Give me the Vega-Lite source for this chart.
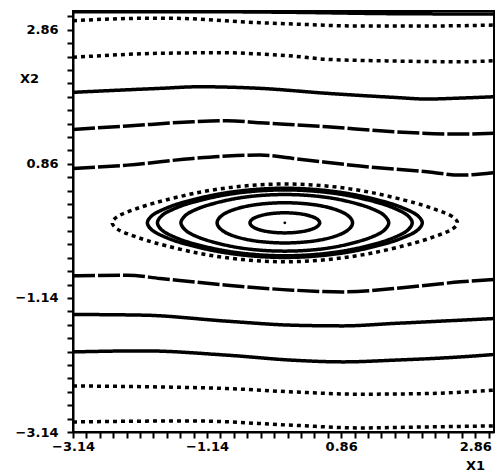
{
  "$schema": "https://vega.github.io/schema/vega-lite/v6.json",
  "width": 421,
  "height": 421,
  "autosize": "none",
  "padding": {"left": 73, "top": 11, "right": 2, "bottom": 41},
  "background": "white",
  "config": {
    "view": {"stroke": "black", "strokeWidth": 2},
    "axis": {
      "labelFont": "DejaVu Sans", "labelFontWeight": "bold", "labelFontSize": 13, "labelColor": "black",
      "domainColor": "black", "domainWidth": 2, "tickColor": "black", "tickWidth": 2, "tickSize": 6,
      "grid": false, "titleFont": "DejaVu Sans", "titleFontWeight": "bold", "titleFontSize": 13, "titleColor": "black"
    }
  },
  "datasets": {
    "lines": [
      {"c":"L0","s":"solid","x":-3.14,"y":3.13},{"c":"L0","s":"solid","x":-1.35,"y":3.13},{"c":"L0","s":"solid","x":0.14,"y":3.12},{"c":"L0","s":"solid","x":1.64,"y":3.1},{"c":"L0","s":"solid","x":3.14,"y":3.095},
      {"c":"L1","s":"dot","x":-3.14,"y":2.995},{"c":"L1","s":"dot","x":-2.09,"y":3.031},{"c":"L1","s":"dot","x":-1.69,"y":3.031},{"c":"L1","s":"dot","x":-0.35,"y":2.965},{"c":"L1","s":"dot","x":0.14,"y":2.946},{"c":"L1","s":"dot","x":1.14,"y":2.916},{"c":"L1","s":"dot","x":2.14,"y":2.916},{"c":"L1","s":"dot","x":3.14,"y":2.931},
      {"c":"L2","s":"dot","x":-3.14,"y":2.449},{"c":"L2","s":"dot","x":-1.84,"y":2.509},{"c":"L2","s":"dot","x":-0.84,"y":2.518},{"c":"L2","s":"dot","x":-0.35,"y":2.498},{"c":"L2","s":"dot","x":0.14,"y":2.468},{"c":"L2","s":"dot","x":0.65,"y":2.419},{"c":"L2","s":"dot","x":1.64,"y":2.394},{"c":"L2","s":"dot","x":2.64,"y":2.383},{"c":"L2","s":"dot","x":3.14,"y":2.398},
      {"c":"L3","s":"solid","x":-3.14,"y":1.927},{"c":"L3","s":"solid","x":-1.84,"y":1.986},{"c":"L3","s":"solid","x":-1.25,"y":2.01},{"c":"L3","s":"solid","x":-0.35,"y":1.986},{"c":"L3","s":"solid","x":0.65,"y":1.912},{"c":"L3","s":"solid","x":1.64,"y":1.852},{"c":"L3","s":"solid","x":2.14,"y":1.827},{"c":"L3","s":"solid","x":2.64,"y":1.841},{"c":"L3","s":"solid","x":3.14,"y":1.861},
      {"c":"L4","s":"dash","x":-3.14,"y":1.374},{"c":"L4","s":"dash","x":-2.33,"y":1.424},{"c":"L4","s":"dash","x":-1.35,"y":1.488},{"c":"L4","s":"dash","x":-0.84,"y":1.503},{"c":"L4","s":"dash","x":-0.35,"y":1.473},{"c":"L4","s":"dash","x":0.65,"y":1.413},{"c":"L4","s":"dash","x":1.64,"y":1.339},{"c":"L4","s":"dash","x":2.64,"y":1.304},{"c":"L4","s":"dash","x":3.14,"y":1.315},
      {"c":"L5","s":"dash","x":-3.14,"y":0.792},{"c":"L5","s":"dash","x":-2.33,"y":0.841},{"c":"L5","s":"dash","x":-1.35,"y":0.941},{"c":"L5","s":"dash","x":-0.84,"y":0.976},{"c":"L5","s":"dash","x":-0.35,"y":0.991},{"c":"L5","s":"dash","x":0.14,"y":0.941},{"c":"L5","s":"dash","x":1.14,"y":0.827},{"c":"L5","s":"dash","x":2.14,"y":0.741},{"c":"L5","s":"dash","x":2.64,"y":0.692},{"c":"L5","s":"dash","x":3.14,"y":0.727},
      {"c":"L6","s":"dash","x":-3.14,"y":-0.811},{"c":"L6","s":"dash","x":-2.33,"y":-0.8},{"c":"L6","s":"dash","x":-1.84,"y":-0.85},{"c":"L6","s":"dash","x":-0.84,"y":-0.95},{"c":"L6","s":"dash","x":0.14,"y":-1.024},{"c":"L6","s":"dash","x":0.89,"y":-1.05},{"c":"L6","s":"dash","x":1.64,"y":-0.999},{"c":"L6","s":"dash","x":2.14,"y":-0.95},{"c":"L6","s":"dash","x":2.64,"y":-0.9},{"c":"L6","s":"dash","x":3.14,"y":-0.865},
      {"c":"L7","s":"solid","x":-3.14,"y":-1.387},{"c":"L7","s":"solid","x":-2.09,"y":-1.397},{"c":"L7","s":"solid","x":-0.84,"y":-1.487},{"c":"L7","s":"solid","x":0.14,"y":-1.547},{"c":"L7","s":"solid","x":0.89,"y":-1.557},{"c":"L7","s":"solid","x":1.64,"y":-1.521},{"c":"L7","s":"solid","x":2.64,"y":-1.472},{"c":"L7","s":"solid","x":3.14,"y":-1.447},
      {"c":"L8","s":"solid","x":-3.14,"y":-1.945},{"c":"L8","s":"solid","x":-2.09,"y":-1.93},{"c":"L8","s":"solid","x":-0.84,"y":-1.994},{"c":"L8","s":"solid","x":0.14,"y":-2.069},{"c":"L8","s":"solid","x":0.89,"y":-2.094},{"c":"L8","s":"solid","x":1.64,"y":-2.069},{"c":"L8","s":"solid","x":2.64,"y":-2.02},{"c":"L8","s":"solid","x":3.14,"y":-1.984},
      {"c":"L9","s":"dot","x":-3.14,"y":-2.453},{"c":"L9","s":"dot","x":-1.84,"y":-2.468},{"c":"L9","s":"dot","x":-0.84,"y":-2.492},{"c":"L9","s":"dot","x":0.14,"y":-2.542},{"c":"L9","s":"dot","x":1.14,"y":-2.576},{"c":"L9","s":"dot","x":2.14,"y":-2.566},{"c":"L9","s":"dot","x":3.14,"y":-2.517},
      {"c":"L10","s":"dot","x":-3.14,"y":-2.99},{"c":"L10","s":"dot","x":-1.35,"y":-2.975},{"c":"L10","s":"dot","x":0.14,"y":-3.039},{"c":"L10","s":"dot","x":1.14,"y":-3.079},{"c":"L10","s":"dot","x":2.14,"y":-3.064},{"c":"L10","s":"dot","x":3.14,"y":-3.049}
    ],
    "rings": [
      {"c":"R1","s":"solid","i":0,"x":0.54,"y":-0.02},{"c":"R1","s":"solid","i":1,"x":0.47,"y":0.055},{"c":"R1","s":"solid","i":2,"x":0.28,"y":0.11},{"c":"R1","s":"solid","i":3,"x":0.02,"y":0.13},{"c":"R1","s":"solid","i":4,"x":-0.24,"y":0.11},{"c":"R1","s":"solid","i":5,"x":-0.43,"y":0.055},{"c":"R1","s":"solid","i":6,"x":-0.5,"y":-0.02},{"c":"R1","s":"solid","i":7,"x":-0.43,"y":-0.095},{"c":"R1","s":"solid","i":8,"x":-0.24,"y":-0.15},{"c":"R1","s":"solid","i":9,"x":0.02,"y":-0.17},{"c":"R1","s":"solid","i":10,"x":0.28,"y":-0.15},{"c":"R1","s":"solid","i":11,"x":0.47,"y":-0.095},
      {"c":"R2","s":"solid","i":0,"x":1.03,"y":-0.02},{"c":"R2","s":"solid","i":1,"x":0.895,"y":0.13},{"c":"R2","s":"solid","i":2,"x":0.525,"y":0.24},{"c":"R2","s":"solid","i":3,"x":0.02,"y":0.28},{"c":"R2","s":"solid","i":4,"x":-0.485,"y":0.24},{"c":"R2","s":"solid","i":5,"x":-0.855,"y":0.13},{"c":"R2","s":"solid","i":6,"x":-0.99,"y":-0.02},{"c":"R2","s":"solid","i":7,"x":-0.855,"y":-0.17},{"c":"R2","s":"solid","i":8,"x":-0.485,"y":-0.28},{"c":"R2","s":"solid","i":9,"x":0.02,"y":-0.32},{"c":"R2","s":"solid","i":10,"x":0.525,"y":-0.28},{"c":"R2","s":"solid","i":11,"x":0.895,"y":-0.17},
      {"c":"R3","s":"solid","i":0,"x":1.57,"y":-0.02},{"c":"R3","s":"solid","i":1,"x":1.52,"y":0.072},{"c":"R3","s":"solid","i":2,"x":1.415,"y":0.147},{"c":"R3","s":"solid","i":3,"x":1.18,"y":0.24},{"c":"R3","s":"solid","i":4,"x":0.795,"y":0.335},{"c":"R3","s":"solid","i":5,"x":0.41,"y":0.386},{"c":"R3","s":"solid","i":6,"x":0.02,"y":0.402},{"c":"R3","s":"solid","i":7,"x":-0.37,"y":0.386},{"c":"R3","s":"solid","i":8,"x":-0.755,"y":0.335},{"c":"R3","s":"solid","i":9,"x":-1.14,"y":0.24},{"c":"R3","s":"solid","i":10,"x":-1.375,"y":0.147},{"c":"R3","s":"solid","i":11,"x":-1.48,"y":0.072},{"c":"R3","s":"solid","i":12,"x":-1.53,"y":-0.02},{"c":"R3","s":"solid","i":13,"x":-1.48,"y":-0.112},{"c":"R3","s":"solid","i":14,"x":-1.375,"y":-0.187},{"c":"R3","s":"solid","i":15,"x":-1.14,"y":-0.28},{"c":"R3","s":"solid","i":16,"x":-0.755,"y":-0.375},{"c":"R3","s":"solid","i":17,"x":-0.37,"y":-0.426},{"c":"R3","s":"solid","i":18,"x":0.02,"y":-0.442},{"c":"R3","s":"solid","i":19,"x":0.41,"y":-0.426},{"c":"R3","s":"solid","i":20,"x":0.795,"y":-0.375},{"c":"R3","s":"solid","i":21,"x":1.18,"y":-0.28},{"c":"R3","s":"solid","i":22,"x":1.415,"y":-0.187},{"c":"R3","s":"solid","i":23,"x":1.52,"y":-0.112},
      {"c":"R4","s":"solid","i":0,"x":1.92,"y":-0.02},{"c":"R4","s":"solid","i":1,"x":1.863,"y":0.079},{"c":"R4","s":"solid","i":2,"x":1.73,"y":0.163},{"c":"R4","s":"solid","i":3,"x":1.445,"y":0.272},{"c":"R4","s":"solid","i":4,"x":0.97,"y":0.386},{"c":"R4","s":"solid","i":5,"x":0.495,"y":0.45},{"c":"R4","s":"solid","i":6,"x":0.02,"y":0.471},{"c":"R4","s":"solid","i":7,"x":-0.455,"y":0.45},{"c":"R4","s":"solid","i":8,"x":-0.93,"y":0.386},{"c":"R4","s":"solid","i":9,"x":-1.405,"y":0.272},{"c":"R4","s":"solid","i":10,"x":-1.69,"y":0.163},{"c":"R4","s":"solid","i":11,"x":-1.823,"y":0.079},{"c":"R4","s":"solid","i":12,"x":-1.88,"y":-0.02},{"c":"R4","s":"solid","i":13,"x":-1.823,"y":-0.119},{"c":"R4","s":"solid","i":14,"x":-1.69,"y":-0.203},{"c":"R4","s":"solid","i":15,"x":-1.405,"y":-0.312},{"c":"R4","s":"solid","i":16,"x":-0.93,"y":-0.426},{"c":"R4","s":"solid","i":17,"x":-0.455,"y":-0.49},{"c":"R4","s":"solid","i":18,"x":0.02,"y":-0.511},{"c":"R4","s":"solid","i":19,"x":0.495,"y":-0.49},{"c":"R4","s":"solid","i":20,"x":0.97,"y":-0.426},{"c":"R4","s":"solid","i":21,"x":1.445,"y":-0.312},{"c":"R4","s":"solid","i":22,"x":1.73,"y":-0.203},{"c":"R4","s":"solid","i":23,"x":1.863,"y":-0.119},
      {"c":"R5","s":"solid","i":0,"x":2.07,"y":-0.02},{"c":"R5","s":"solid","i":1,"x":2.008,"y":0.081},{"c":"R5","s":"solid","i":2,"x":1.865,"y":0.166},{"c":"R5","s":"solid","i":3,"x":1.5575,"y":0.28},{"c":"R5","s":"solid","i":4,"x":1.045,"y":0.402},{"c":"R5","s":"solid","i":5,"x":0.5325,"y":0.472},{"c":"R5","s":"solid","i":6,"x":0.02,"y":0.496},{"c":"R5","s":"solid","i":7,"x":-0.4925,"y":0.472},{"c":"R5","s":"solid","i":8,"x":-1.005,"y":0.402},{"c":"R5","s":"solid","i":9,"x":-1.5175,"y":0.28},{"c":"R5","s":"solid","i":10,"x":-1.825,"y":0.166},{"c":"R5","s":"solid","i":11,"x":-1.9685,"y":0.081},{"c":"R5","s":"solid","i":12,"x":-2.03,"y":-0.02},{"c":"R5","s":"solid","i":13,"x":-1.9685,"y":-0.121},{"c":"R5","s":"solid","i":14,"x":-1.825,"y":-0.206},{"c":"R5","s":"solid","i":15,"x":-1.5175,"y":-0.32},{"c":"R5","s":"solid","i":16,"x":-1.005,"y":-0.442},{"c":"R5","s":"solid","i":17,"x":-0.4925,"y":-0.512},{"c":"R5","s":"solid","i":18,"x":0.02,"y":-0.536},{"c":"R5","s":"solid","i":19,"x":0.5325,"y":-0.512},{"c":"R5","s":"solid","i":20,"x":1.045,"y":-0.442},{"c":"R5","s":"solid","i":21,"x":1.5575,"y":-0.32},{"c":"R5","s":"solid","i":22,"x":1.865,"y":-0.206},{"c":"R5","s":"solid","i":23,"x":2.008,"y":-0.121},
      {"c":"R6","s":"dot","i":0,"x":2.595,"y":-0.02},{"c":"R6","s":"dot","i":1,"x":2.518,"y":0.073},{"c":"R6","s":"dot","i":2,"x":2.3375,"y":0.154},{"c":"R6","s":"dot","i":3,"x":1.951,"y":0.28},{"c":"R6","s":"dot","i":4,"x":1.3075,"y":0.433},{"c":"R6","s":"dot","i":5,"x":0.664,"y":0.527},{"c":"R6","s":"dot","i":6,"x":0.02,"y":0.56},{"c":"R6","s":"dot","i":7,"x":-0.624,"y":0.527},{"c":"R6","s":"dot","i":8,"x":-1.2675,"y":0.433},{"c":"R6","s":"dot","i":9,"x":-1.911,"y":0.28},{"c":"R6","s":"dot","i":10,"x":-2.2975,"y":0.154},{"c":"R6","s":"dot","i":11,"x":-2.478,"y":0.073},{"c":"R6","s":"dot","i":12,"x":-2.555,"y":-0.02},{"c":"R6","s":"dot","i":13,"x":-2.478,"y":-0.113},{"c":"R6","s":"dot","i":14,"x":-2.2975,"y":-0.194},{"c":"R6","s":"dot","i":15,"x":-1.911,"y":-0.32},{"c":"R6","s":"dot","i":16,"x":-1.2675,"y":-0.473},{"c":"R6","s":"dot","i":17,"x":-0.624,"y":-0.567},{"c":"R6","s":"dot","i":18,"x":0.02,"y":-0.6},{"c":"R6","s":"dot","i":19,"x":0.664,"y":-0.567},{"c":"R6","s":"dot","i":20,"x":1.3075,"y":-0.473},{"c":"R6","s":"dot","i":21,"x":1.951,"y":-0.32},{"c":"R6","s":"dot","i":22,"x":2.3375,"y":-0.194},{"c":"R6","s":"dot","i":23,"x":2.518,"y":-0.113}
    ],
    "center": [{"x": 0.02, "y": -0.02}]
  },
  "encoding": {
    "x": {
      "field": "x", "type": "quantitative",
      "scale": {"domain": [-3.14, 3.14], "nice": false, "zero": false},
      "axis": {
        "values": [-3.14,-2.94,-2.74,-2.54,-2.34,-2.14,-1.94,-1.74,-1.54,-1.34,-1.14,-0.94,-0.74,-0.54,-0.34,-0.14,0.06,0.26,0.46,0.66,0.86,1.06,1.26,1.46,1.66,1.86,2.06,2.26,2.46,2.66,2.86,3.06],
        "format": ".2f",
        "labelExpr": "indexof([-3.14,-1.14,0.86,2.86], datum.value) >= 0 ? datum.label : ''",
        "labelFlush": false, "labelPadding": 2, "labelOverlap": false,
        "title": "X1", "titleAngle": 0, "titleX": 402, "titleY": 33, "titleAlign": "center", "titleBaseline": "middle"
      }
    },
    "y": {
      "field": "y", "type": "quantitative",
      "scale": {"domain": [-3.14, 3.14], "nice": false, "zero": false},
      "axis": {
        "values": [-3.14,-2.94,-2.74,-2.54,-2.34,-2.14,-1.94,-1.74,-1.54,-1.34,-1.14,-0.94,-0.74,-0.54,-0.34,-0.14,0.06,0.26,0.46,0.66,0.86,1.06,1.26,1.46,1.66,1.86,2.06,2.26,2.46,2.66,2.86,3.06],
        "format": ".2f",
        "labelExpr": "indexof([-3.14,-1.14,0.86,2.86], datum.value) >= 0 ? datum.label : ''",
        "labelFlush": false, "labelPadding": 9, "labelOverlap": false,
        "title": "X2", "titleAngle": 0, "titleX": -44, "titleY": 67, "titleAlign": "center", "titleBaseline": "middle"
      }
    }
  },
  "layer": [
    {
      "data": {"name": "lines"},
      "mark": {"type": "line", "interpolate": "monotone", "strokeWidth": 3.5, "color": "black", "clip": true},
      "encoding": {
        "detail": {"field": "c", "type": "nominal"},
        "strokeDash": {"field": "s", "type": "nominal", "scale": {"domain": ["solid", "dash", "dot"], "range": [[1, 0], [22, 3], [4, 4]]}, "legend": null}
      }
    },
    {
      "data": {"name": "rings"},
      "mark": {"type": "line", "interpolate": "cardinal-closed", "strokeWidth": 3.5, "color": "black", "clip": true},
      "encoding": {
        "detail": {"field": "c", "type": "nominal"},
        "order": {"field": "i", "type": "quantitative"},
        "strokeDash": {"field": "s", "type": "nominal", "scale": {"domain": ["solid", "dash", "dot"], "range": [[1, 0], [22, 3], [3, 2]]}, "legend": null}
      }
    },
    {
      "data": {"name": "center"},
      "mark": {"type": "point", "filled": true, "size": 8, "color": "black", "opacity": 1},
      "encoding": {}
    }
  ]
}
